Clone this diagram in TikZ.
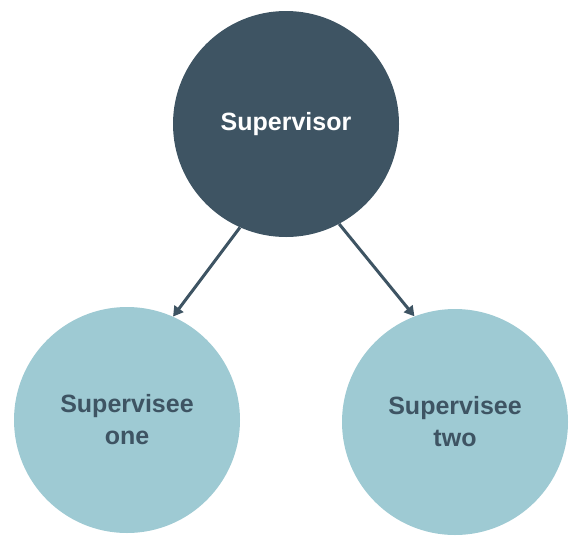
\documentclass[tikz,border=0pt]{standalone}
\usepackage{fontspec}
\setmainfont{Liberation Sans}
\usetikzlibrary{arrows.meta}
\definecolor{darkslate}{HTML}{3E5463}
\definecolor{lightteal}{HTML}{9ECAD3}
\begin{document}
\begin{tikzpicture}[x=1pt,y=-1pt,
  bigcircle/.style={circle,minimum size=226pt,inner sep=0pt,align=center,
    font=\fontsize{25}{32}\selectfont\bfseries},
  topcircle/.style={bigcircle,fill=darkslate,text=white},
  subcircle/.style={bigcircle,fill=lightteal,text=darkslate},
  conn/.style={draw=darkslate,line width=3pt,-{Triangle[length=10pt,width=11pt]}}]
\useasboundingbox (0,0) rectangle (572,536);
\node[topcircle] (sup) at (286,124) {Supervisor};
\node[subcircle] (one) at (127,420) {Supervisee\\one};
\node[subcircle] (two) at (455,422) {Supervisee\\two};
\draw[conn] (sup.246) -- (one.66);
\draw[conn] (sup.298) -- (two.111);
\end{tikzpicture}
\end{document}
